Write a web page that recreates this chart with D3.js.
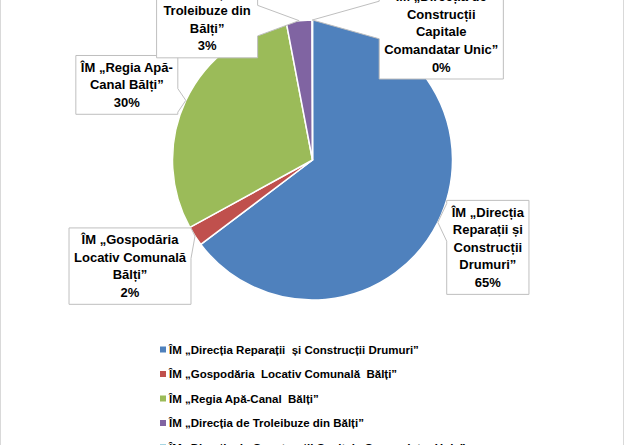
<!DOCTYPE html>
<html>
<head>
<meta charset="utf-8">
<script src="https://cdn.jsdelivr.net/npm/d3@7"></script>
<style>
  html, body { margin: 0; padding: 0; background: #fff; overflow: hidden; }
  svg { display: block; font-family: "Liberation Sans", Arial, sans-serif; }
</style>
</head>
<body>
<svg id="chart" width="625" height="445"></svg>
<script>
// share of each enterprise (percent)
const categories = [
  "ÎM „Direcția Reparații  și Construcții Drumuri”",
  "ÎM „Gospodăria  Locativ Comunală  Bălți”",
  "ÎM „Regia Apă-Canal  Bălți”",
  "ÎM „Direcția de Troleibuze din Bălți”",
  "ÎM „Direcția de Construcții Capitale Comandatar Unic”"
];
const values = [64.7, 2.3, 30.0, 2.95, 0.05];
const colors = ["#4F81BD", "#C0504D", "#9BBB59", "#8064A2", "#4BACC6"];

// wrapped text of data labels (percent line added below)
const labelLines = [
  ["ÎM „Direcția", "Reparații și", "Construcții", "Drumuri”"],
  ["ÎM „Gospodăria", "Locativ Comunală", "Bălți”"],
  ["ÎM „Regia Apă-", "Canal Bălți”"],
  ["ÎM „Direcția de", "Troleibuze din", "Bălți”"],
  ["ÎM „Direcția de", "Construcții", "Capitale", "Comandatar Unic”"]
];

// layout: label box centre relative to wedge tip
const labelOffsets = [[50, 25], [-65, 30], [-59, -15.5], [-92, -1], [129, 12]];

const svg = d3.select("#chart");
const cx = 312.5, cy = 160, R = 140;
const lineH = 17.6;
const total = d3.sum(values);

// chart area border (top/bottom cut by the crop)
svg.append("rect")
  .attr("x", 0.5).attr("y", -10)
  .attr("width", 623).attr("height", 470)
  .attr("fill", "none").attr("stroke", "#d9d9d9");

const pie = d3.pie().sort(null).value(d => d)(values);
const arc = d3.arc().innerRadius(0).outerRadius(R);

const g = svg.append("g").attr("transform", `translate(${cx},${cy})`);
g.selectAll("path.slice")
  .data(pie)
  .enter()
  .append("path")
  .attr("class", "slice")
  .attr("d", arc)
  .attr("fill", (d, i) => colors[i])
  .attr("stroke", "#fff")
  .attr("stroke-width", 1.5)
  .attr("stroke-linejoin", "round");

/* ---------- callout labels ---------- */
const measure = svg.append("text")
  .attr("font-size", 13).attr("font-weight", "bold")
  .attr("visibility", "hidden");
function textW(s){ measure.text(s); return measure.node().getComputedTextLength(); }

const labelsG = svg.append("g");
pie.forEach((d, i) => {
  const a = (d.startAngle + d.endAngle) / 2;
  const tip = [cx + R * Math.sin(a), cy - R * Math.cos(a)];
  const lines = labelLines[i].concat(Math.round(d.value / total * 100) + "%");
  const w = d3.max(lines, textW) + 10;
  const h = lines.length * lineH + 6;
  const bx = tip[0] + labelOffsets[i][0], by = tip[1] + labelOffsets[i][1];
  const x0 = bx - w / 2, x1 = bx + w / 2, y0 = by - h / 2, y1 = by + h / 2;

  const half = Math.min(20, h * 0.2);
  const bc = Math.max(y0 + half, Math.min(y1 - half, tip[1]));
  let p = `M${x0},${y0}H${x1}`;
  if (tip[0] > x1) p += `V${bc - half}L${tip[0]},${tip[1]}L${x1},${bc + half}`;
  p += `V${y1}H${x0}`;
  if (tip[0] < x0) p += `V${bc + half}L${tip[0]},${tip[1]}L${x0},${bc - half}`;
  p += "Z";

  labelsG.append("path")
    .attr("d", p)
    .attr("fill", "#fff")
    .attr("stroke", "#bfbfbf")
    .attr("stroke-width", 1);

  labelsG.append("text")
    .attr("font-size", 13).attr("font-weight", "bold")
    .attr("fill", "#000")
    .attr("text-anchor", "middle")
    .selectAll("tspan")
    .data(lines)
    .enter()
    .append("tspan")
    .attr("x", bx)
    .attr("y", (s, k) => y0 + 3 + k * lineH + 13.2)
    .text(s => s);
});

/* ---------- legend ---------- */
const legendY = d3.scalePoint().domain(d3.range(categories.length)).range([349.5, 349.5 + 24.5 * 4]);
const leg = svg.append("g").selectAll("g")
  .data(categories)
  .enter()
  .append("g")
  .attr("transform", (c, i) => `translate(160,${legendY(i)})`);

leg.append("rect")
  .attr("x", 0).attr("y", -3)
  .attr("width", 6).attr("height", 6)
  .attr("fill", (c, i) => colors[i]);

leg.append("text")
  .attr("x", 9).attr("y", 4.2)
  .attr("font-size", 11.5).attr("font-weight", "bold")
  .attr("fill", "#000")
  .attr("xml:space", "preserve")
  .style("white-space", "pre")
  .text(c => c);
</script>
</body>
</html>
